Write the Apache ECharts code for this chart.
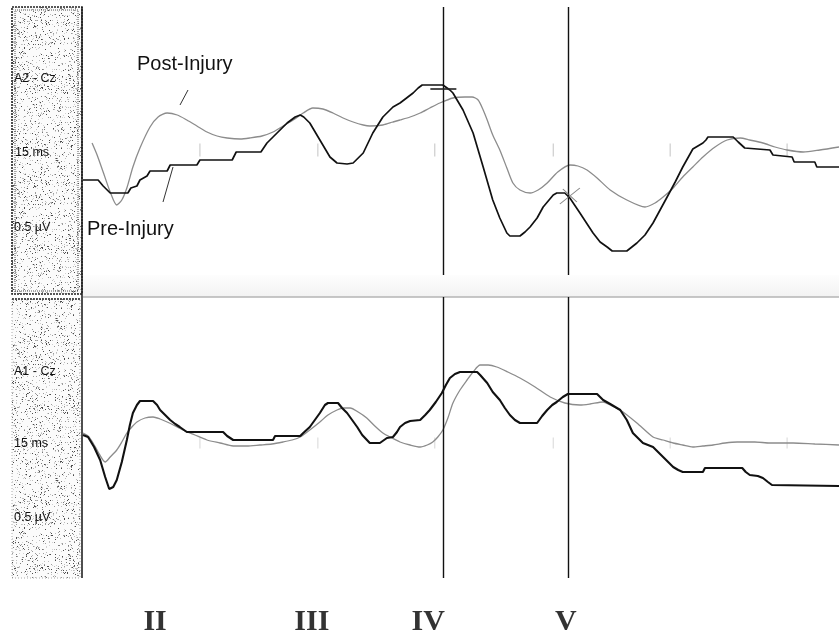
<!DOCTYPE html>
<html>
<head>
<meta charset="utf-8">
<script src="https://cdn.jsdelivr.net/npm/echarts@6/dist/echarts.min.js"></script>
<style>html,body{margin:0;padding:0;background:#fff}#c{width:839px;height:639px}</style>
</head>
<body>
<div id="c"></div>
<script>
// time in ms, amplitude in µV (relative)
const preTop = [[0,-0.10],[0.30,-0.10],[0.40,-0.16],[0.54,-0.23],[0.89,-0.23],[0.95,-0.18],[1.07,-0.16],[1.13,-0.10],[1.27,-0.06],[1.33,-0.01],[1.67,-0.01],[1.73,0.05],[2.26,0.05],[2.32,0.10],[2.96,0.10],[3.00,0.14],[3.04,0.18],[3.53,0.18],[3.65,0.27],[3.85,0.37],[4.05,0.47],[4.21,0.53],[4.31,0.55],[4.38,0.53],[4.50,0.47],[4.70,0.30],[4.90,0.13],[5.04,0.07],[5.24,0.06],[5.36,0.07],[5.46,0.12],[5.56,0.17],[5.75,0.37],[5.95,0.53],[6.15,0.63],[6.29,0.67],[6.55,0.77],[6.65,0.82],[6.73,0.85],[7.14,0.85],[7.28,0.80],[7.34,0.77],[7.54,0.60],[7.74,0.37],[7.94,0.03],[8.13,-0.30],[8.27,-0.48],[8.41,-0.63],[8.47,-0.66],[8.67,-0.66],[8.77,-0.62],[8.87,-0.57],[9.01,-0.48],[9.13,-0.37],[9.33,-0.25],[9.40,-0.23],[9.56,-0.23],[9.66,-0.28],[9.86,-0.43],[10.12,-0.63],[10.26,-0.72],[10.40,-0.77],[10.50,-0.81],[10.79,-0.81],[10.89,-0.77],[10.99,-0.73],[11.15,-0.65],[11.31,-0.53],[11.45,-0.40],[11.59,-0.27],[11.75,-0.12],[11.90,0.03],[12.10,0.21],[12.30,0.27],[12.36,0.30],[12.40,0.33],[12.90,0.33],[13.00,0.28],[13.13,0.22],[13.63,0.20],[13.69,0.15],[14.07,0.13],[14.11,0.08],[14.52,0.08],[14.56,0.03],[15.00,0.03]];

const postTop = [[0.18,0.27],[0.28,0.15],[0.40,-0.02],[0.54,-0.22],[0.67,-0.35],[0.77,-0.30],[0.87,-0.18],[0.99,0.03],[1.13,0.22],[1.33,0.43],[1.49,0.53],[1.67,0.57],[1.87,0.55],[2.06,0.50],[2.26,0.44],[2.46,0.38],[2.66,0.34],[2.86,0.32],[3.12,0.31],[3.31,0.32],[3.55,0.34],[3.77,0.38],[3.97,0.44],[4.17,0.50],[4.37,0.57],[4.56,0.62],[4.76,0.61],[4.96,0.57],[5.16,0.52],[5.36,0.48],[5.56,0.45],[5.69,0.44],[5.95,0.45],[6.15,0.48],[6.29,0.50],[6.49,0.53],[6.69,0.57],[6.88,0.62],[7.08,0.67],[7.34,0.72],[7.58,0.73],[7.72,0.73],[7.84,0.70],[7.94,0.60],[8.02,0.50],[8.13,0.35],[8.27,0.20],[8.41,0.02],[8.53,-0.13],[8.67,-0.20],[8.87,-0.23],[9.03,-0.20],[9.21,-0.13],[9.42,-0.02],[9.66,0.05],[9.82,0.04],[10.00,0.00],[10.20,-0.08],[10.46,-0.20],[10.79,-0.30],[11.15,-0.37],[11.35,-0.33],[11.51,-0.27],[11.71,-0.18],[11.90,-0.07],[12.10,0.03],[12.30,0.13],[12.54,0.23],[12.78,0.30],[13.04,0.32],[13.23,0.30],[13.49,0.27],[13.73,0.23],[13.97,0.20],[14.29,0.18],[14.62,0.20],[15.00,0.23]];

const preBot = [[0,0.05],[0.10,0.03],[0.22,-0.07],[0.34,-0.20],[0.44,-0.37],[0.52,-0.49],[0.60,-0.47],[0.67,-0.40],[0.77,-0.22],[0.87,0.00],[0.93,0.15],[0.99,0.27],[1.07,0.35],[1.13,0.39],[1.39,0.39],[1.47,0.35],[1.53,0.30],[1.63,0.25],[1.73,0.20],[1.83,0.16],[1.92,0.13],[2.06,0.08],[2.78,0.08],[2.86,0.04],[2.98,0.00],[3.77,0.00],[3.81,0.04],[4.31,0.04],[4.37,0.07],[4.50,0.13],[4.60,0.20],[4.70,0.27],[4.80,0.35],[4.86,0.37],[5.06,0.37],[5.14,0.32],[5.24,0.27],[5.34,0.20],[5.44,0.13],[5.54,0.05],[5.69,-0.03],[5.89,-0.03],[6.03,0.02],[6.15,0.03],[6.23,0.08],[6.29,0.13],[6.39,0.17],[6.49,0.19],[6.69,0.20],[6.79,0.25],[6.88,0.30],[7.00,0.38],[7.12,0.47],[7.20,0.55],[7.28,0.62],[7.38,0.66],[7.48,0.68],[7.82,0.68],[7.88,0.65],[8.02,0.57],[8.13,0.48],[8.27,0.40],[8.37,0.32],[8.47,0.25],[8.57,0.20],[8.67,0.17],[9.01,0.17],[9.11,0.24],[9.21,0.30],[9.31,0.35],[9.40,0.38],[9.52,0.43],[9.62,0.46],[10.20,0.46],[10.26,0.43],[10.32,0.40],[10.46,0.36],[10.66,0.30],[10.79,0.20],[10.91,0.07],[11.01,0.02],[11.11,-0.03],[11.31,-0.07],[11.41,-0.12],[11.51,-0.17],[11.61,-0.22],[11.71,-0.27],[11.81,-0.30],[11.90,-0.32],[12.30,-0.32],[12.34,-0.28],[13.08,-0.28],[13.15,-0.32],[13.23,-0.35],[13.39,-0.36],[13.49,-0.38],[13.59,-0.42],[13.67,-0.45],[15.00,-0.46]];

const postBot = [[0,0.07],[0.10,0.04],[0.20,-0.03],[0.30,-0.12],[0.44,-0.22],[0.54,-0.17],[0.67,-0.10],[0.77,-0.02],[0.87,0.07],[0.97,0.13],[1.07,0.18],[1.23,0.22],[1.39,0.23],[1.53,0.21],[1.67,0.18],[1.83,0.14],[1.98,0.10],[2.22,0.05],[2.46,0.00],[2.72,-0.03],[2.98,-0.06],[3.25,-0.06],[3.51,-0.05],[3.75,-0.04],[3.97,-0.02],[4.15,0.00],[4.31,0.03],[4.50,0.10],[4.70,0.18],[4.86,0.25],[5.04,0.30],[5.16,0.32],[5.30,0.32],[5.46,0.28],[5.63,0.22],[5.79,0.14],[5.95,0.07],[6.13,0.02],[6.29,-0.02],[6.49,-0.05],[6.69,-0.07],[6.83,-0.05],[6.94,-0.02],[7.04,0.03],[7.14,0.10],[7.24,0.22],[7.34,0.37],[7.48,0.50],[7.62,0.60],[7.74,0.68],[7.88,0.75],[8.04,0.75],[8.21,0.73],[8.43,0.68],[8.67,0.62],[8.97,0.53],[9.27,0.43],[9.56,0.37],[9.86,0.35],[10.06,0.36],[10.32,0.38],[10.46,0.35],[10.66,0.30],[10.99,0.17],[11.31,0.03],[11.51,0.00],[11.71,-0.03],[11.90,-0.05],[12.10,-0.07],[12.30,-0.06],[12.50,-0.05],[12.74,-0.03],[12.98,-0.02],[13.33,-0.02],[13.63,-0.03],[14.09,-0.03],[14.52,-0.04],[15.00,-0.05]];

const waveLines = [7.14, 9.63];          // cursor lines IV and V (ms)
const markerIV = [7.15, 0.81];
const markerV = [9.66, -0.26];
const tickTimes = [2.32, 4.66, 6.98, 9.33, 11.65, 13.97];
const numerals = ['II', 'III', 'IV', 'V'];
const numeralTimes = [1.43, 4.54, 6.85, 9.58];
const panelLabelsTop = ['A2 - Cz', '15 ms', '0.5 µV'];
const panelLabelsBot = ['A1 - Cz', '15 ms', '0.5 µV'];

function stipple() {
  const N = 160;
  const c = document.createElement('canvas');
  c.width = N; c.height = N;
  const ctx = c.getContext('2d');
  ctx.fillStyle = '#fbfbfb';
  ctx.fillRect(0, 0, N, N);
  let s = 2463534242;
  const nxt = () => { s ^= s << 13; s >>>= 0; s ^= s >>> 17; s ^= s << 5; s >>>= 0; return s; };
  const cols = ['#4a4a4a', '#7a7a7a', '#9c9c9c', '#bdbdbd', '#d2d2d2'];
  for (let i = 0; i < 3400; i++) {
    const x = nxt() % N, y = nxt() % N, g = nxt() % cols.length;
    ctx.fillStyle = cols[g];
    ctx.fillRect(x, y, 1, 1);
  }
  return c;
}
const pat = { image: stipple(), repeat: 'repeat' };

const chart = echarts.init(document.getElementById('c'));
const font = '"Liberation Sans", Arial, sans-serif';

const graphics = [
  { type: 'rect', z: 1, shape: { x: 83, y: 275, width: 756, height: 22 },
    style: { fill: new echarts.graphic.LinearGradient(0, 0, 0, 1, [{offset:0,color:'#fdfdfd'},{offset:1,color:'#f2f2f2'}]) } },
  { type: 'line', z: 2, shape: { x1: 83, y1: 297, x2: 839, y2: 297 }, style: { stroke: '#b4b4b4', lineWidth: 1.5 } },
  { type: 'rect', z: 2, shape: { x: 12, y: 7, width: 70, height: 287 },
    style: { fill: pat, stroke: '#222', lineWidth: 1.6, lineDash: [2, 1] } },
  { type: 'rect', z: 3, shape: { x: 15, y: 10, width: 63, height: 281 },
    style: { fill: null, stroke: '#555', lineWidth: 1, lineDash: [1, 1] } },
  { type: 'rect', z: 2, shape: { x: 12, y: 299, width: 68, height: 279 },
    style: { fill: pat, stroke: '#aaa', lineWidth: 1, lineDash: [1, 2] } },
  { type: 'line', z: 3, shape: { x1: 12, y1: 299, x2: 80, y2: 299 }, style: { stroke: '#222', lineWidth: 1.6, lineDash: [2, 1] } },
  { type: 'line', z: 3, shape: { x1: 82, y1: 7, x2: 82, y2: 578 }, style: { stroke: '#222', lineWidth: 1.6 } },
  { type: 'text', z: 4, style: { text: panelLabelsTop[0], x: 14, y: 79, font: '12.5px ' + font, fill: '#111', verticalAlign: 'middle' } },
  { type: 'text', z: 4, style: { text: panelLabelsTop[1], x: 15, y: 153, font: '12.5px ' + font, fill: '#111', verticalAlign: 'middle' } },
  { type: 'text', z: 4, style: { text: panelLabelsTop[2], x: 14, y: 228, font: '12.5px ' + font, fill: '#111', verticalAlign: 'middle' } },
  { type: 'text', z: 4, style: { text: panelLabelsBot[0], x: 14, y: 372, font: '12.5px ' + font, fill: '#111', verticalAlign: 'middle' } },
  { type: 'text', z: 4, style: { text: panelLabelsBot[1], x: 14, y: 444, font: '12.5px ' + font, fill: '#111', verticalAlign: 'middle' } },
  { type: 'text', z: 4, style: { text: panelLabelsBot[2], x: 14, y: 518, font: '12.5px ' + font, fill: '#111', verticalAlign: 'middle' } },
  { type: 'text', z: 4, style: { text: 'Post-Injury', x: 137, y: 54, font: '20px ' + font, fill: '#111', verticalAlign: 'top' } },
  { type: 'line', z: 4, shape: { x1: 188, y1: 90, x2: 180, y2: 105 }, style: { stroke: '#333', lineWidth: 1 } },
  { type: 'text', z: 4, style: { text: 'Pre-Injury', x: 87, y: 219, font: '20px ' + font, fill: '#111', verticalAlign: 'top' } },
  { type: 'line', z: 4, shape: { x1: 173, y1: 167, x2: 163, y2: 202 }, style: { stroke: '#333', lineWidth: 1 } }
];

const vline = {
  silent: true, symbol: ['none', 'none'], label: { show: false },
  lineStyle: { color: '#111', width: 1.4, type: 'solid' },
  data: waveLines.map(t => ({ xAxis: t }))
};

const option = {
  animation: false,
  backgroundColor: '#fff',
  grid: [
    { left: 83, right: 0, top: 7, height: 268 },
    { left: 83, right: 0, top: 297, height: 281 }
  ],
  xAxis: [
    { type: 'value', gridIndex: 0, min: 0, max: 15, show: false },
    { type: 'value', gridIndex: 1, min: 0, max: 15, show: false }
  ],
  yAxis: [
    { type: 'value', gridIndex: 0, min: -1.05, max: 1.63, show: false },
    { type: 'value', gridIndex: 1, min: -1.38, max: 1.43, show: false }
  ],
  series: [
    { name: 'Post-Injury A2', type: 'line', xAxisIndex: 0, yAxisIndex: 0, data: postTop, smooth: 0.25,
      symbol: 'none', lineStyle: { color: '#8c8c8c', width: 1.3 }, z: 3 },
    { name: 'Pre-Injury A2', type: 'line', xAxisIndex: 0, yAxisIndex: 0, data: preTop,
      symbol: 'none', lineStyle: { color: '#111', width: 1.7 }, z: 4, markLine: vline },
    { name: 'Post-Injury A1', type: 'line', xAxisIndex: 1, yAxisIndex: 1, data: postBot, smooth: 0.25,
      symbol: 'none', lineStyle: { color: '#8c8c8c', width: 1.3 }, z: 3 },
    { name: 'Pre-Injury A1', type: 'line', xAxisIndex: 1, yAxisIndex: 1, data: preBot,
      symbol: 'none', lineStyle: { color: '#111', width: 2.1 }, z: 4, markLine: vline },
    { type: 'scatter', xAxisIndex: 0, yAxisIndex: 0, z: 5, silent: true,
      data: [
        { value: markerIV, symbol: 'rect', symbolSize: [26, 2], itemStyle: { color: '#222' } },
        { value: markerV, symbol: 'path://M0,16L20,0M3,1L17,14', symbolSize: [20, 16],
          itemStyle: { color: 'rgba(0,0,0,0)', borderColor: '#666', borderWidth: 1 } }
      ] },
    { type: 'scatter', xAxisIndex: 0, yAxisIndex: 0, z: 2, silent: true,
      data: tickTimes.map(t => [t, 0.20]), symbol: 'rect', symbolSize: [1, 13],
      itemStyle: { color: '#aaa', opacity: 0.7 } },
    { type: 'scatter', xAxisIndex: 1, yAxisIndex: 1, z: 2, silent: true,
      data: tickTimes.map(t => [t, -0.03]), symbol: 'rect', symbolSize: [1, 11],
      itemStyle: { color: '#b0b0b0', opacity: 0.5 } },
    { type: 'scatter', xAxisIndex: 1, yAxisIndex: 1, z: 5, silent: true, clip: false,
      data: numeralTimes.map((t, i) => ({ value: [t, -1.38], name: numerals[i] })),
      symbolSize: 1, itemStyle: { color: 'rgba(0,0,0,0)' },
      label: { show: true, position: 'bottom', distance: 29, formatter: p => p.name,
        fontFamily: '"Liberation Serif", "Times New Roman", serif', fontWeight: 'bold', fontSize: 30, color: '#000' },
      labelLayout: { hideOverlap: false } }
  ],
  graphic: graphics
};
chart.setOption(option);
</script>
</body>
</html>
